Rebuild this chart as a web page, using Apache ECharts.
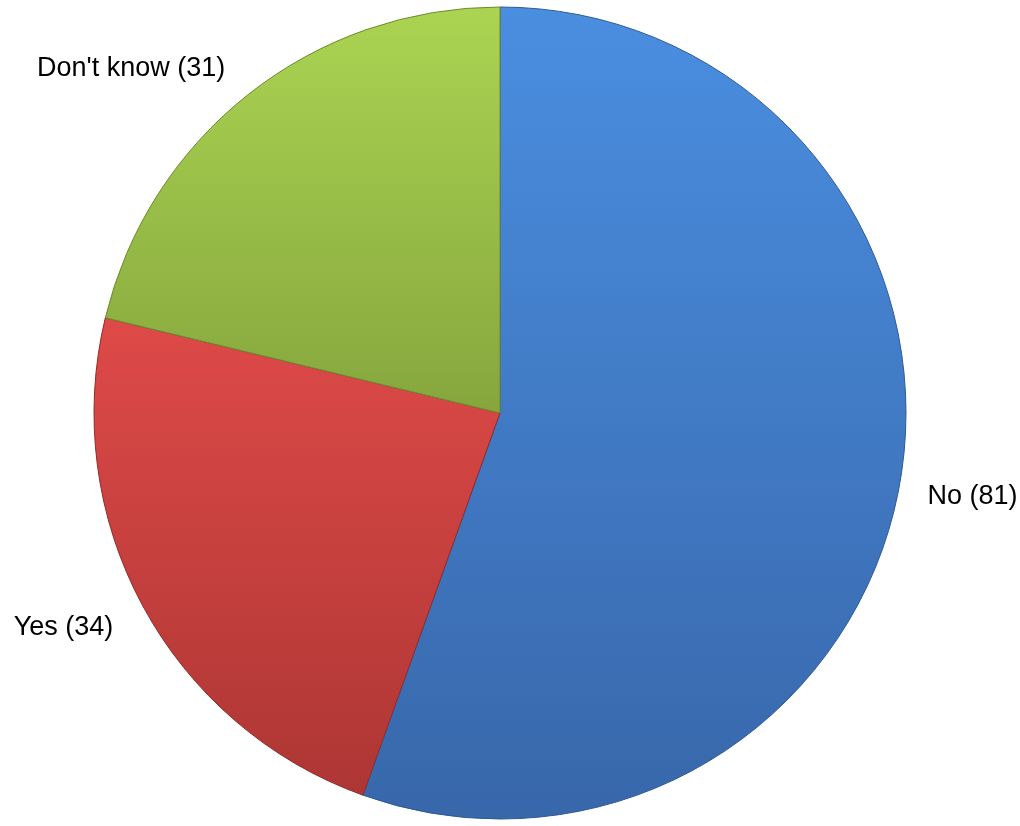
<!DOCTYPE html>
<html>
<head>
<meta charset="utf-8">
<script src="https://cdn.jsdelivr.net/npm/echarts@6/dist/echarts.min.js"></script>
<style>
  html, body { margin: 0; padding: 0; background: #ffffff; }
  #chart { width: 1020px; height: 826px; }
</style>
</head>
<body>
<div id="chart"></div>
<script>
// Survey answers
const categories = ['No', 'Yes', "Don't know"];
const counts = [81, 34, 31];

// Per-slice vertical shading: [top colour, bottom colour, edge colour]
const shades = [
  ['#4a8ee0', '#3867aa', '#2f5a96'],
  ['#de4a48', '#ad3634', '#8f2c2a'],
  ['#abd452', '#86a63d', '#6d8a30']
];

// Small nudges for the outside labels
const labelNudge = [[-7, 9], [2, 7], [0, -2]];

const chart = echarts.init(document.getElementById('chart'), null, { renderer: 'canvas' });

const data = categories.map((name, i) => ({
  name: name,
  value: counts[i],
  label: { offset: labelNudge[i] },
  itemStyle: {
    color: {
      type: 'linear', x: 0, y: 0, x2: 0, y2: 1,
      colorStops: [
        { offset: 0, color: shades[i][0] },
        { offset: 1, color: shades[i][1] }
      ]
    },
    borderColor: shades[i][2],
    borderWidth: 1
  }
}));

chart.setOption({
  backgroundColor: '#ffffff',
  animation: false,
  series: [{
    type: 'pie',
    center: [500, 413],
    radius: [0, 406],
    startAngle: 90,
    clockwise: true,
    avoidLabelOverlap: false,
    data: data,
    label: {
      show: true,
      position: 'outside',
      formatter: p => p.name + ' (' + p.value + ')',
      fontFamily: '"Liberation Sans", Arial, sans-serif',
      fontSize: 27,
      color: '#000000'
    },
    labelLine: { show: false, length: 30, length2: 0 },
    emphasis: { disabled: true }
  }]
});
</script>
</body>
</html>
